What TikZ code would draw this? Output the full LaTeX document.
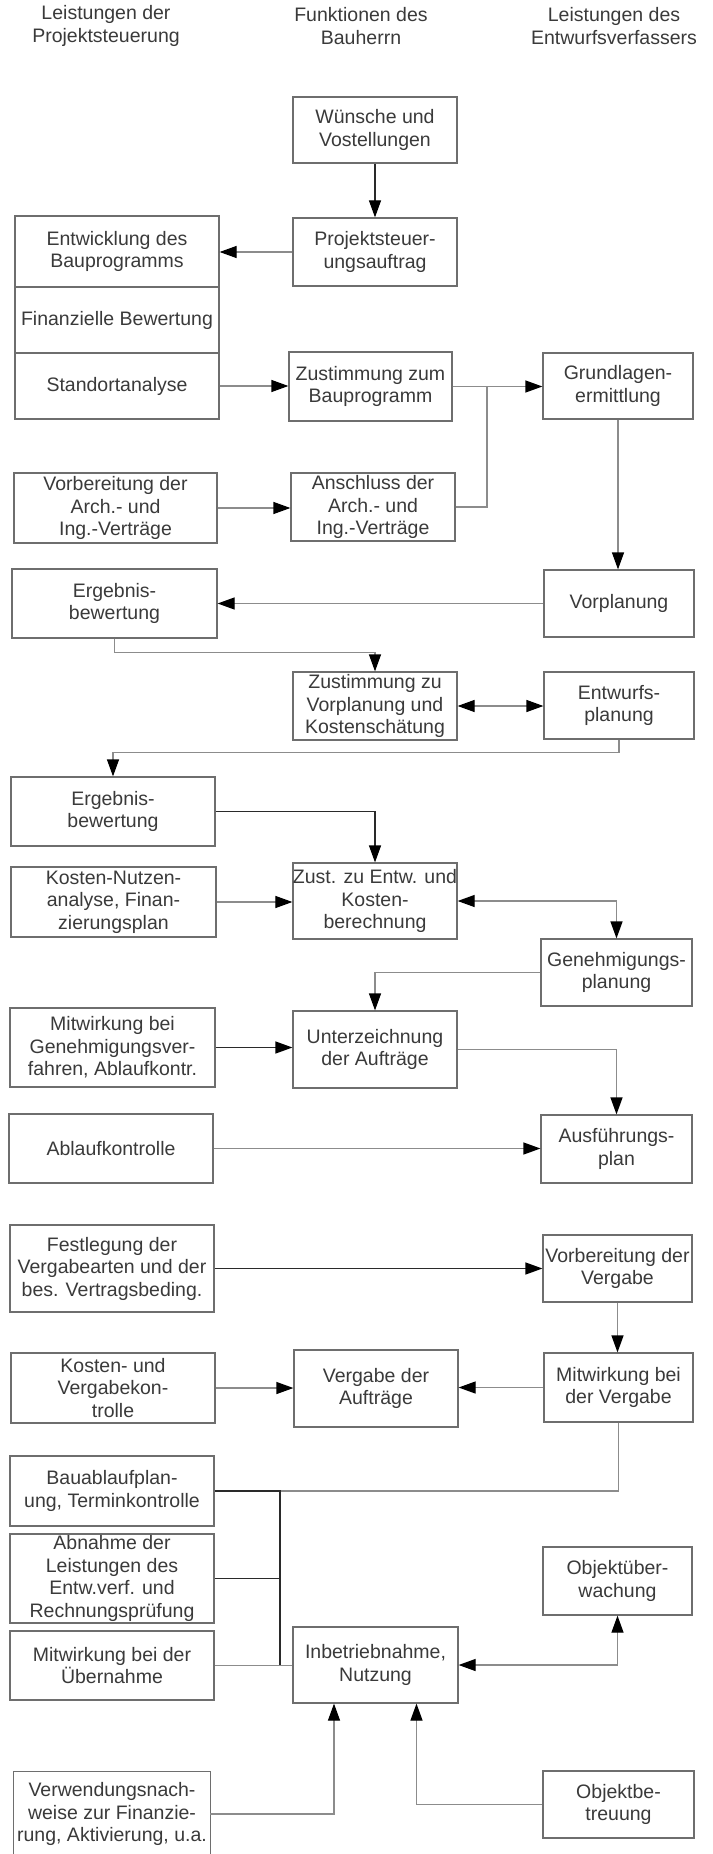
\documentclass[tikz,border=0pt]{standalone}
\usepackage{fontspec}
\setmainfont{Liberation Sans}
\usetikzlibrary{arrows.meta,calc}
\definecolor{txt}{HTML}{3A3A3A}
\definecolor{boxc}{HTML}{6E6E6E}
\definecolor{linec}{HTML}{8C8C8C}
\definecolor{darkc}{HTML}{2A2A2A}
\newcommand\bx[6]{\node[box, minimum width={(#4-#2)*1pt}, minimum height={(#5-#3)*1pt}] (#1) at ({(#2+#4)/2},{(#3+#5)/2}) {#6};}
\begin{document}
\begin{tikzpicture}[x=1pt,y=-1pt,
  every node/.style={font=\fontsize{19.5}{22.5}\selectfont, text=txt, align=center, inner sep=0pt},
  box/.style={draw=boxc, line width=1.2pt},
  ln/.style={draw=linec, line width=1.2pt},
  dk/.style={draw=darkc, line width=1.2pt},
  arr/.style={-{Triangle[length=17pt,width=12pt,color=black]}},
  arrtwo/.style={{Triangle[length=17pt,width=12pt,color=black]}-{Triangle[length=17pt,width=12pt,color=black]}}
]
\fill[white] (0,0) rectangle (712,1854);
\useasboundingbox (0,0) rectangle (712,1854);

% headers
\node (h1) at (106,26) {Leistungen der\\Projektsteuerung};
\node (h2) at (361,26) {Funktionen des\\Bauherrn};
\node (h3) at (614,26) {Leistungen des\\Entwurfsverfassers};

% boxes
\bx{wunsch}{293}{97}{457}{163}{Wünsche und\\Vostellungen}
\bx{projekt}{293}{218}{457}{286}{Projektsteuer-\\ungsauftrag}
\bx{entw}{15}{216}{219}{287}{Entwicklung des\\Bauprogramms}
\bx{finanz}{15}{287}{219}{353}{Finanzielle Bewertung}
\bx{stand}{15}{353}{219}{419}{Standortanalyse}
\bx{zustBau}{289}{352}{452}{421}{Zustimmung zum\\Bauprogramm}
\bx{grund}{543}{353}{693}{419}{Grundlagen-\\ermittlung}
\bx{vorbArch}{14}{473}{217}{543}{Vorbereitung der\\Arch.- und\\Ing.-Verträge}
\bx{anschl}{291}{473}{455}{541}{Anschluss der\\Arch.- und\\Ing.-Verträge}
\bx{erg1}{12}{569}{217}{638}{Ergebnis-\\bewertung}
\bx{vorpl}{544}{570}{694}{637}{Vorplanung}
\bx{zustVor}{293}{672}{457}{740}{Zustimmung zu\\Vorplanung und\\Kostenschätung}
\bx{entwpl}{544}{672}{694}{739}{Entwurfs-\\planung}
\bx{erg2}{11}{777}{215}{846}{Ergebnis-\\bewertung}
\bx{zustEntw}{293}{863}{457}{939}{Zust. zu Entw. und\\Kosten-\\berechnung}
\bx{kosten}{11}{867}{216}{937}{Kosten-Nutzen-\\analyse, Finan-\\zierungsplan}
\bx{genehm}{541}{939}{692}{1006}{Genehmigungs-\\planung}
\bx{unterz}{293}{1011}{457}{1088}{Unterzeichnung\\der Aufträge}
\bx{mitwGen}{10}{1008}{215}{1087}{Mitwirkung bei\\Genehmigungsver-\\fahren, Ablaufkontr.}
\bx{ausf}{541}{1115}{692}{1183}{Ausführungs-\\plan}
\bx{ablauf}{9}{1114}{213}{1183}{Ablaufkontrolle}
\bx{festl}{10}{1225}{214}{1312}{Festlegung der\\Vergabearten und der\\bes. Vertragsbeding.}
\bx{vorbVerg}{543}{1235}{692}{1302}{Vorbereitung der\\Vergabe}
\bx{mitwVerg}{544}{1353}{693}{1422}{Mitwirkung bei\\der Vergabe}
\bx{vergabe}{294}{1350}{458}{1427}{Vergabe der\\Aufträge}
\bx{kostVerg}{11}{1353}{215}{1423}{Kosten- und\\Vergabekon-\\trolle}
\bx{bauabl}{10}{1456}{214}{1526}{Bauablaufplan-\\ung, Terminkontrolle}
\bx{abnahme}{10}{1534}{214}{1623}{Abnahme der\\Leistungen des\\Entw.verf. und\\Rechnungsprüfung}
\bx{mitwUeb}{10}{1631}{214}{1700}{Mitwirkung bei der\\Übernahme}
\bx{inbetr}{293}{1627}{458}{1703}{Inbetriebnahme,\\Nutzung}
\bx{objUeb}{543}{1547}{692}{1615}{Objektüber-\\wachung}
\bx{objBetr}{543}{1771}{694}{1838}{Objektbe-\\treuung}
\node[minimum width=196pt, minimum height=84pt] (verw) at (112,1814) {Verwendungsnach-\\weise zur Finanzie-\\rung, Aktivierung, u.a.};
\draw[box] ($(verw.north west)+(0,82)$) -- (verw.north west) -- (verw.north east) -- ($(verw.north east)+(0,82)$);

% connectors
\draw[dk,arr] (wunsch.south) -- (projekt.north);
\draw[ln,arr] (projekt.west) -- (projekt.west -| entw.east);
\draw[ln,arr] (stand.east) -- (stand.east -| zustBau.west);
\coordinate (j1) at (487,387);
\draw[ln,arr] (zustBau.east) -- (zustBau.east -| grund.west);
\draw[ln] (anschl.east) -| (j1);
\draw[ln,arr] (vorbArch.east) -- (vorbArch.east -| anschl.west);
\draw[ln,arr] (grund.south) -- (grund.south |- vorpl.north);
\draw[ln,arr] (vorpl.west) -- (vorpl.west -| erg1.east);
\draw[ln,arr] (erg1.south) -- ++(0,14) -| (zustVor.north);
\draw[ln,arrtwo] (zustVor.east) -- (zustVor.east -| entwpl.west);
\draw[ln,arr] (entwpl.south) -- ++(0,13) -| (erg2.north);
\draw[dk,arr] (erg2.east) -| (zustEntw.north);
\draw[ln,arr] (kosten.east) -- (kosten.east -| zustEntw.west);
\draw[ln,arrtwo] (zustEntw.east) -| (genehm.north);
\draw[ln,arr] (genehm.west) -| (unterz.north);
\draw[dk,arr] (mitwGen.east) -- (mitwGen.east -| unterz.west);
\draw[ln,arr] (unterz.east) -| (ausf.north);
\draw[ln,arr] (ablauf.east) -- (ablauf.east -| ausf.west);
\draw[dk,arr] (festl.east) -- (festl.east -| vorbVerg.west);
\draw[ln,arr] (vorbVerg.south) -- (vorbVerg.south |- mitwVerg.north);
\draw[ln,arr] (mitwVerg.west) -- (mitwVerg.west -| vergabe.east);
\draw[ln,arr] (kostVerg.east) -- (kostVerg.east -| vergabe.west);
\coordinate (b1) at (280,1491);
\coordinate (b2) at (280,1665);
\draw[ln] (mitwVerg.south) |- (b1);
\draw[dk] (bauabl.east) -- (b1) -- (b2);
\draw[dk] (abnahme.east) -- (abnahme.east -| b1);
\draw[ln] (mitwUeb.east) -- (mitwUeb.east -| inbetr.west);
\draw[ln,arrtwo] (inbetr.east) -| (objUeb.south);
\coordinate (inbR) at ([xshift=41pt]inbetr.south);
\coordinate (inbL) at ([xshift=-41.5pt]inbetr.south);
\draw[ln,arr] (objBetr.west) -| (inbR);
\draw[ln,arr] (verw.east) -| (inbL);
\end{tikzpicture}
\end{document}
